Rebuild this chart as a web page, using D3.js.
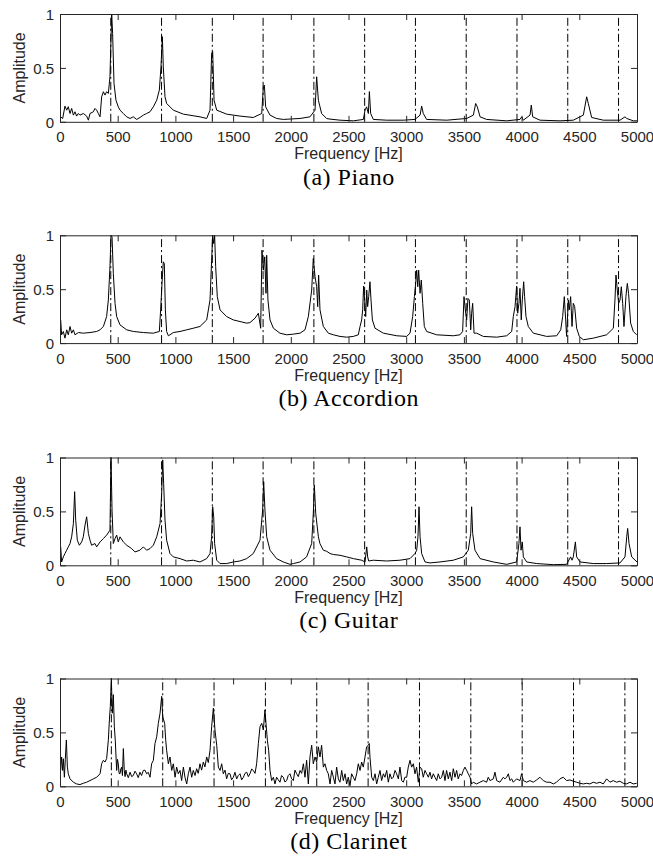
<!DOCTYPE html>
<html>
<head>
<meta charset="utf-8">
<script src="https://cdn.jsdelivr.net/npm/d3@7"></script>
<style>
  body { margin: 0; background: #fff; }
  svg { display: block; }
</style>
</head>
<body>
<svg id="fig" width="653" height="862"></svg>
<script>
// Normalised magnitude spectra of four instruments playing A4, [frequency Hz, amplitude]
const piano = [
  [6,0.046],[23,0.03],[43,0.145],[58,0.108],[72,0.14],[87,0.077],[101,0.124],[116,0.062],[130,0.093],
  [144,0.053],[159,0.077],[173,0.062],[202,0.077],[231,0.053],[246,0.015],[260,0.077],[289,0.093],
  [303,0.124],[318,0.108],[332,0.077],[347,0.046],[361,0.232],[376,0.279],[390,0.248],[404,0.279],
  [419,0.263],[433,0.418],[448,1.0],[456,0.82],[468,0.356],[485,0.2],[505,0.139],[520,0.108],
  [549,0.077],[578,0.046],[607,0.031],[635,0.046],[664,0.022],[693,0.04],[722,0.062],[751,0.077],
  [780,0.093],[809,0.139],[838,0.2],[861,0.294],[875,0.51],[887,0.79],[895,0.51],[910,0.232],
  [924,0.17],[982,0.108],[1069,0.071],[1213,0.046],[1271,0.031],[1300,0.108],[1314,0.635],[1323,0.65],
  [1335,0.2],[1358,0.108],[1444,0.071],[1560,0.053],[1675,0.04],[1748,0.077],[1762,0.325],[1771,0.34],
  [1782,0.139],[1820,0.062],[1877,0.031],[1935,0.022],[2080,0.031],[2166,0.046],[2210,0.108],
  [2224,0.418],[2239,0.2],[2267,0.077],[2311,0.03],[2340,0.025],[2426,0.015],[2542,0.009],[2629,0.022],
  [2643,0.108],[2657,0.139],[2672,0.077],[2681,0.28],[2692,0.077],[2715,0.022],[2831,0.015],
  [2975,0.015],[3076,0.022],[3120,0.062],[3134,0.145],[3148,0.077],[3177,0.022],[3351,0.015],
  [3524,0.031],[3582,0.062],[3602,0.17],[3616,0.139],[3640,0.046],[3697,0.022],[3871,0.009],
  [3986,0.022],[4001,0.046],[4015,0.015],[4073,0.062],[4084,0.155],[4096,0.046],[4159,0.015],
  [4333,0.009],[4448,0.015],[4535,0.062],[4564,0.232],[4578,0.17],[4607,0.04],[4708,0.015],
  [4853,0.015],[4896,0.046],[4911,0.031],[4968,0.009],[5000,0.009]
];

const accordion = [
  [6,0.215],[14,0.077],[29,0.108],[43,0.046],[58,0.123],[72,0.077],[87,0.154],[101,0.092],[116,0.123],
  [130,0.077],[159,0.098],[202,0.092],[260,0.098],[318,0.108],[347,0.123],[376,0.154],[404,0.246],
  [419,0.4],[433,0.708],[442,1.0],[451,0.985],[462,0.646],[477,0.369],[491,0.246],[520,0.169],
  [578,0.123],[635,0.108],[722,0.098],[809,0.092],[861,0.108],[872,0.308],[884,0.554],[895,0.754],
  [904,0.738],[913,0.308],[924,0.108],[939,0.068],[953,0.077],[982,0.098],[1040,0.108],[1098,0.123],
  [1155,0.138],[1213,0.154],[1271,0.215],[1300,0.4],[1314,0.769],[1323,1.0],[1332,0.923],[1340,1.0],
  [1349,0.708],[1363,0.431],[1387,0.308],[1444,0.246],[1502,0.215],[1560,0.2],[1618,0.185],
  [1646,0.19],[1690,0.231],[1719,0.277],[1739,0.138],[1750,0.862],[1762,0.677],[1774,0.8],
  [1785,0.462],[1791,0.815],[1802,0.4],[1820,0.215],[1849,0.138],[1906,0.092],[1964,0.077],
  [2022,0.083],[2080,0.092],[2123,0.123],[2152,0.246],[2181,0.492],[2195,0.785],[2210,0.615],
  [2224,0.523],[2233,0.338],[2241,0.631],[2253,0.308],[2282,0.154],[2325,0.092],[2369,0.077],
  [2426,0.062],[2484,0.055],[2542,0.062],[2585,0.077],[2600,0.154],[2614,0.215],[2623,0.308],
  [2631,0.529],[2640,0.4],[2649,0.246],[2658,0.492],[2666,0.338],[2675,0.431],[2686,0.569],
  [2695,0.4],[2707,0.215],[2730,0.138],[2802,0.092],[2918,0.068],[3004,0.062],[3033,0.092],
  [3056,0.246],[3071,0.431],[3082,0.554],[3091,0.677],[3100,0.523],[3108,0.677],[3120,0.462],
  [3131,0.585],[3143,0.369],[3157,0.154],[3177,0.108],[3264,0.077],[3408,0.068],[3466,0.077],
  [3489,0.108],[3501,0.431],[3512,0.308],[3524,0.215],[3535,0.415],[3547,0.4],[3559,0.123],
  [3567,0.277],[3576,0.369],[3588,0.092],[3611,0.092],[3668,0.062],[3784,0.055],[3871,0.068],
  [3914,0.108],[3928,0.246],[3943,0.338],[3957,0.529],[3966,0.277],[3977,0.369],[3986,0.508],
  [3997,0.215],[4006,0.4],[4018,0.569],[4026,0.431],[4038,0.246],[4058,0.154],[4102,0.092],
  [4217,0.062],[4304,0.068],[4339,0.123],[4356,0.246],[4370,0.431],[4382,0.215],[4390,0.062],
  [4405,0.4],[4413,0.308],[4425,0.431],[4437,0.154],[4448,0.369],[4460,0.338],[4477,0.138],
  [4500,0.062],[4535,0.031],[4622,0.046],[4737,0.077],[4795,0.138],[4809,0.4],[4818,0.631],
  [4829,0.492],[4841,0.369],[4853,0.4],[4864,0.523],[4876,0.369],[4887,0.154],[4904,0.431],
  [4916,0.554],[4927,0.462],[4945,0.185],[4968,0.108],[4997,0.077]
];

const guitar = [
  [6,0.171],[14,0.031],[29,0.078],[43,0.109],[58,0.14],[72,0.171],[87,0.202],[101,0.264],[116,0.388],
  [127,0.683],[136,0.419],[150,0.233],[168,0.186],[188,0.217],[202,0.264],[217,0.373],[231,0.45],
  [246,0.295],[260,0.233],[274,0.186],[303,0.202],[318,0.171],[347,0.217],[376,0.248],[404,0.28],
  [433,0.326],[442,1.0],[451,0.512],[462,0.202],[477,0.248],[491,0.28],[505,0.217],[520,0.264],
  [549,0.217],[578,0.186],[621,0.155],[650,0.124],[693,0.14],[722,0.171],[751,0.14],[780,0.155],
  [809,0.186],[838,0.264],[867,0.388],[881,0.668],[890,0.978],[898,0.761],[910,0.419],[924,0.233],
  [953,0.109],[982,0.078],[1040,0.062],[1098,0.04],[1155,0.047],[1213,0.031],[1271,0.062],
  [1300,0.109],[1314,0.264],[1323,0.543],[1332,0.45],[1340,0.202],[1358,0.047],[1387,0.016],
  [1444,0.016],[1502,0.031],[1560,0.04],[1618,0.062],[1675,0.109],[1733,0.233],[1756,0.512],
  [1765,0.776],[1776,0.512],[1791,0.264],[1820,0.14],[1877,0.062],[1935,0.031],[1993,0.009],
  [2022,0.016],[2080,0.031],[2137,0.078],[2181,0.202],[2195,0.481],[2204,0.745],[2216,0.481],
  [2239,0.264],[2253,0.2],[2282,0.14],[2311,0.13],[2340,0.109],[2369,0.1],[2426,0.093],[2484,0.078],
  [2542,0.062],[2614,0.047],[2643,0.031],[2658,0.171],[2666,0.078],[2675,0.04],[2715,0.047],
  [2831,0.04],[2946,0.047],[3033,0.062],[3076,0.109],[3091,0.14],[3102,0.264],[3111,0.543],
  [3120,0.264],[3134,0.109],[3163,0.031],[3206,0.022],[3293,0.031],[3408,0.047],[3495,0.078],
  [3538,0.14],[3559,0.295],[3567,0.543],[3576,0.295],[3596,0.14],[3640,0.062],[3755,0.031],
  [3871,0.009],[3957,0.031],[3977,0.202],[3986,0.357],[3995,0.14],[4006,0.217],[4015,0.078],
  [4044,0.031],[4131,0.016],[4275,0.006],[4390,0.009],[4425,0.078],[4437,0.047],[4448,0.078],
  [4466,0.217],[4477,0.078],[4506,0.031],[4622,0.016],[4737,0.016],[4853,0.022],[4896,0.078],
  [4911,0.264],[4919,0.342],[4931,0.202],[4954,0.078],[5000,0.031]
];

const clarinet = [
  [6,0.147],[14,0.272],[23,0.147],[29,0.256],[38,0.084],[46,0.25],[55,0.43],[64,0.178],[72,0.116],
  [87,0.069],[116,0.038],[144,0.022],[173,0.016],[202,0.028],[231,0.038],[260,0.053],[289,0.069],
  [318,0.084],[347,0.116],[361,0.209],[376,0.241],[390,0.225],[404,0.256],[419,0.428],[428,0.616],
  [436,0.741],[445,1.0],[453,0.678],[462,0.85],[471,0.553],[479,0.428],[491,0.147],[498,0.25],
  [505,0.209],[512,0.12],[520,0.116],[527,0.16],[534,0.178],[541,0.1],[549,0.35],[557,0.147],
  [564,0.09],[571,0.15],[578,0.116],[592,0.08],[607,0.131],[621,0.09],[635,0.1],[650,0.14],
  [664,0.116],[678,0.08],[693,0.131],[707,0.1],[722,0.147],[736,0.15],[751,0.116],[765,0.13],
  [780,0.084],[794,0.209],[809,0.241],[823,0.397],[838,0.459],
  [852,0.584],[867,0.678],[881,0.834],[890,0.647],[898,0.616],[907,0.584],[916,0.428],[924,0.334],
  [939,0.209],[953,0.272],[968,0.147],[982,0.209],[997,0.084],[1011,0.178],[1025,0.116],[1040,0.147],
  [1054,0.053],[1069,0.178],[1083,0.084],[1098,0.022],[1112,0.116],[1127,0.178],[1141,0.084],
  [1155,0.147],[1170,0.1],[1184,0.163],[1198,0.12],[1213,0.209],[1227,0.15],[1242,0.225],[1256,0.18],
  [1271,0.272],[1285,0.22],[1300,0.334],[1314,0.553],
  [1329,0.725],[1343,0.522],[1358,0.381],[1372,0.178],[1387,0.147],[1401,0.209],[1415,0.116],
  [1430,0.15],[1444,0.069],[1458,0.12],[1473,0.116],[1487,0.06],[1502,0.084],[1516,0.13],[1531,0.069],
  [1545,0.1],[1560,0.116],[1574,0.06],[1589,0.084],[1603,0.12],[1618,0.131],[1632,0.09],
  [1646,0.116],[1661,0.16],[1675,0.147],[1690,0.12],[1704,0.209],[1719,0.397],[1733,0.553],[1748,0.584],[1762,0.522],
  [1776,0.709],[1785,0.584],[1797,0.428],[1808,0.334],[1820,0.147],[1834,0.053],[1849,0.084],
  [1863,0.022],[1877,0.084],[1892,0.06],[1906,0.038],[1920,0.1],[1935,0.084],[1949,0.04],[1964,0.053],
  [1978,0.1],[1993,0.116],[2007,0.07],[2022,0.053],[2036,0.15],
  [2051,0.116],[2065,0.09],[2080,0.147],[2094,0.12],[2109,0.209],[2123,0.084],[2137,0.241],[2152,0.022],[2166,0.272],
  [2181,0.381],[2195,0.209],[2210,0.272],[2224,0.225],[2239,0.366],[2253,0.272],[2267,0.381],
  [2282,0.178],[2296,0.209],[2311,0.147],[2325,0.116],[2340,0.022],[2354,0.147],[2369,0.084],
  [2383,0.022],[2397,0.178],[2412,0.069],[2426,0.038],[2441,0.147],[2455,0.053],[2470,0.116],
  [2484,0.022],[2498,0.084],[2513,0.006],[2527,0.116],[2542,0.084],[2556,0.053],[2571,0.116],
  [2585,0.209],[2600,0.147],[2614,0.225],[2628,0.178],[2643,0.272],[2657,0.366],[2672,0.381],
  [2680,0.397],[2686,0.272],[2701,0.084],[2715,0.053],[2730,0.116],[2744,0.022],[2758,0.084],
  [2773,0.147],[2787,0.053],[2802,0.116],[2816,0.084],[2831,0.147],[2845,0.038],[2859,0.116],
  [2874,0.069],[2888,0.084],[2903,0.147],[2917,0.116],[2932,0.069],[2946,0.178],[2961,0.053],
  [2975,0.038],[2989,0.084],[3004,0.084],[3018,0.178],[3033,0.241],[3047,0.178],[3062,0.209],
  [3076,0.116],[3090,0.178],[3105,0.038],[3119,0.178],[3134,0.163],[3148,0.084],[3163,0.147],
  [3177,0.116],[3192,0.084],[3206,0.131],[3220,0.069],[3235,0.116],[3249,0.084],[3264,0.053],
  [3278,0.116],[3293,0.069],[3307,0.084],[3322,0.147],[3336,0.053],[3350,0.147],[3365,0.069],
  [3379,0.131],[3394,0.053],[3408,0.163],[3423,0.084],[3437,0.147],[3451,0.069],[3466,0.116],
  [3480,0.1],[3495,0.147],[3509,0.178],[3524,0.147],[3538,0.116],[3553,0.084],[3567,0.022],
  [3581,0.038],[3610,0.022],[3639,0.038],[3668,0.053],[3697,0.038],[3711,0.084],[3726,0.053],
  [3755,0.069],[3769,0.131],[3784,0.053],[3812,0.038],[3841,0.084],[3856,0.069],[3870,0.084],
  [3885,0.116],[3899,0.053],[3914,0.069],[3928,0.038],[3957,0.069],[3986,0.053],[4000,0.116],
  [4015,0.053],[4044,0.038],[4072,0.053],[4101,0.038],[4130,0.059],[4159,0.084],[4188,0.053],
  [4217,0.038],[4246,0.038],[4275,0.022],[4303,0.038],[4332,0.069],[4361,0.084],[4390,0.053],
  [4419,0.059],[4448,0.047],[4477,0.038],[4506,0.028],[4535,0.022],[4563,0.028],[4592,0.022],
  [4621,0.038],[4650,0.028],[4679,0.038],[4708,0.022],[4737,0.069],[4766,0.038],[4794,0.053],
  [4823,0.038],[4852,0.047],[4881,0.028],[4910,0.022],[4939,0.038],[4968,0.022],[4997,0.028]
];

const spectra = [piano, accordion, guitar, clarinet];
const captions = ["(a) Piano", "(b) Accordion", "(c) Guitar", "(d) Clarinet"];
const fundamentals = [440, 440, 440, 445];   // Hz, harmonic marker spacing per instrument
const harmonicCount = 11;
const xTicks = [0, 500, 1000, 1500, 2000, 2500, 3000, 3500, 4000, 4500, 5000];
const yTicks = [0, 0.5, 1];
const xLabel = "Frequency [Hz]";
const yLabel = "Amplitude";

// ---- layout ----
const plotLeft = 60, plotRight = 637;
const panelTops = [14, 235.3, 457.5, 678.5];
const panelHeight = 107.8;
const axisColor = "#262626";
const sansFont = "'Liberation Sans', Arial, Helvetica, sans-serif";
const serifFont = "'Liberation Serif', 'Times New Roman', serif";

const svg = d3.select("#fig");
const x = d3.scaleLinear().domain([0, 5000]).range([plotLeft, plotRight]);
const line = d3.line();

spectra.forEach((data, i) => {
  const top = panelTops[i];
  const bottom = top + panelHeight;
  const y = d3.scaleLinear().domain([0, 1]).range([bottom, top]);
  const g = svg.append("g").attr("class", "panel");

  // harmonic markers
  const harmonics = d3.range(1, harmonicCount + 1).map(k => k * fundamentals[i]);
  g.append("g").selectAll("line")
    .data(harmonics)
    .join("line")
    .attr("x1", d => x(d)).attr("x2", d => x(d))
    .attr("y1", y(0)).attr("y2", y(1))
    .attr("stroke", "#000")
    .attr("stroke-width", 1)
    .attr("stroke-dasharray", "8,3,2,3");

  // spectrum trace
  g.append("path")
    .datum(data)
    .attr("fill", "none")
    .attr("stroke", "#000")
    .attr("stroke-width", 1)
    .attr("stroke-linejoin", "round")
    .attr("d", line.x(d => x(d[0])).y(d => y(d[1])));

  // box axes with inward ticks
  const styleAxis = sel => {
    sel.select(".domain").attr("stroke", axisColor).attr("stroke-width", 1);
    sel.selectAll(".tick line").attr("stroke", axisColor).attr("stroke-width", 1);
    sel.selectAll("text").attr("fill", axisColor)
      .style("font-family", sansFont).style("font-size", "15px");
  };

  const bottomAxis = g.append("g")
    .attr("transform", `translate(0,${bottom})`)
    .call(d3.axisBottom(x).tickValues(xTicks).tickSizeInner(-6).tickSizeOuter(0).tickFormat(d3.format("d")));
  styleAxis(bottomAxis);
  bottomAxis.selectAll("text").attr("y", 20.5).attr("dy", null);

  const topAxis = g.append("g")
    .attr("transform", `translate(0,${top})`)
    .call(d3.axisTop(x).tickValues(xTicks).tickSizeInner(-6).tickSizeOuter(0).tickFormat(""));
  styleAxis(topAxis);

  const leftAxis = g.append("g")
    .attr("transform", `translate(${plotLeft},0)`)
    .call(d3.axisLeft(y).tickValues(yTicks).tickSizeInner(-6).tickSizeOuter(0).tickFormat(d => String(d)));
  styleAxis(leftAxis);
  leftAxis.selectAll("text").attr("x", -6).attr("dy", "0.36em");

  const rightAxis = g.append("g")
    .attr("transform", `translate(${plotRight},0)`)
    .call(d3.axisRight(y).tickValues(yTicks).tickSizeInner(-6).tickSizeOuter(0).tickFormat(""));
  styleAxis(rightAxis);

  // axis titles
  g.append("text")
    .attr("x", (plotLeft + plotRight) / 2)
    .attr("y", bottom + 37.5)
    .attr("text-anchor", "middle")
    .attr("fill", axisColor)
    .style("font-family", sansFont).style("font-size", "16px")
    .text(xLabel);

  g.append("text")
    .attr("transform", `translate(25,${(top + bottom) / 2}) rotate(-90)`)
    .attr("text-anchor", "middle")
    .attr("fill", axisColor)
    .style("font-family", sansFont).style("font-size", "16px")
    .text(yLabel);

  // caption
  g.append("text")
    .attr("x", (plotLeft + plotRight) / 2 + 0.3)
    .attr("y", bottom + 63)
    .attr("text-anchor", "middle")
    .attr("fill", "#000")
    .style("font-family", serifFont).style("font-size", "24px")
    .style("letter-spacing", "0.5px")
    .text(captions[i]);
});
</script>
</body>
</html>
